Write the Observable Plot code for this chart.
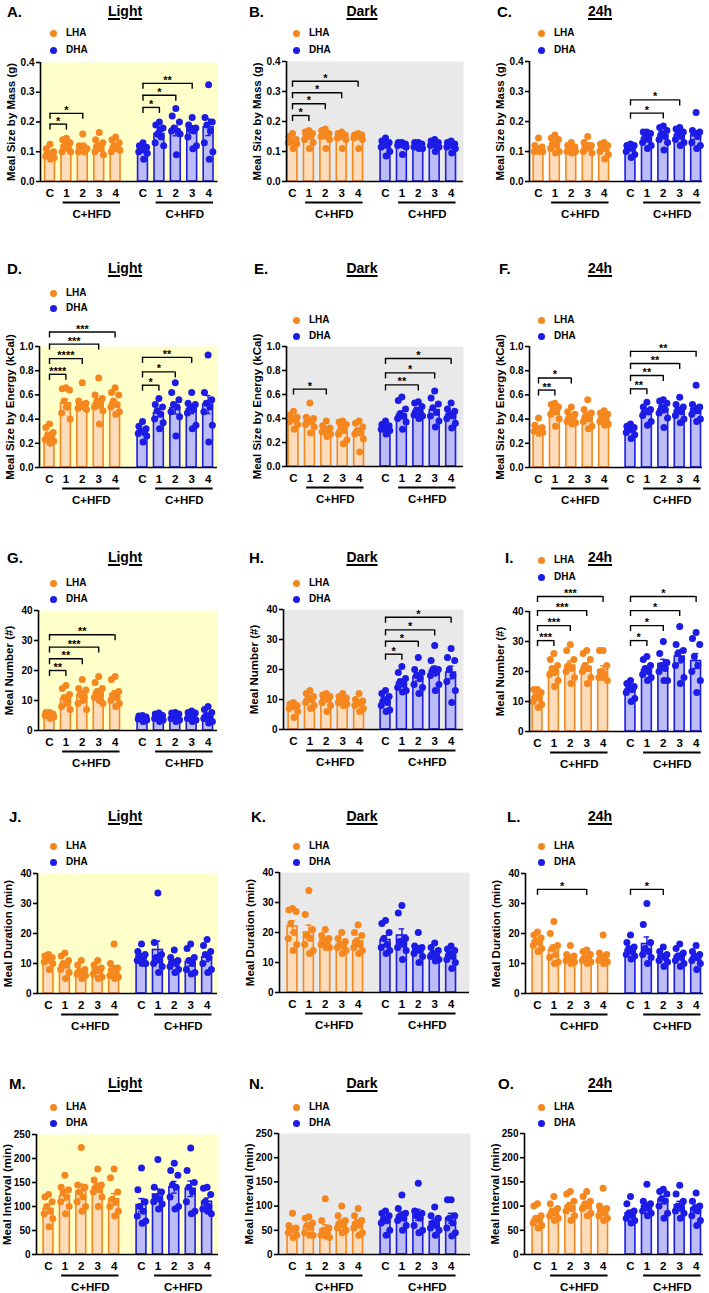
<!DOCTYPE html>
<html>
<head>
<meta charset="utf-8">
<script src="https://cdn.jsdelivr.net/npm/d3@7"></script>
<script src="https://cdn.jsdelivr.net/npm/@observablehq/plot@0.6"></script>
<style>
  body { margin: 0; background: #fff; }
  #fig { position: relative; width: 709px; height: 1293px; overflow: hidden;
         font-family: "Liberation Sans", Arial, Helvetica, sans-serif; color: #000; }
  .panel { position: absolute; }
  .letter { position: absolute; font-weight: bold; font-size: 15px; line-height: 1; transform: translateY(-50%); }
  .title { position: absolute; font-weight: bold; font-size: 14px; line-height: 1; transform: translate(-50%, -50%);
           text-decoration: underline; text-decoration-thickness: 1.5px; text-underline-offset: 2px; }
  .leg { position: absolute; font-weight: bold; font-size: 10px; line-height: 14px; display: flex; align-items: center; white-space: nowrap; }
  .leg i { display: inline-block; width: 7px; height: 7px; border-radius: 50%; margin-right: 9.5px; }
</style>
</head>
<body>
<div id="fig"></div>
<script>
// ---------- data ----------
const groupLabels = ["C", "1", "2", "3", "4"];
const regionNames = ["LHA", "DHA"];

// Meal size by mass (g)
const massLightBars = [0.095, 0.12, 0.11, 0.12, 0.115, 0.105, 0.16, 0.17, 0.175, 0.182];
const massLightDots = [
  [0.125, 0.11, 0.10, 0.095, 0.09, 0.085, 0.08, 0.075],
  [0.145, 0.14, 0.13, 0.12, 0.11, 0.10, 0.10, 0.135],
  [0.16, 0.12, 0.11, 0.105, 0.10, 0.10, 0.11, 0.12],
  [0.165, 0.14, 0.13, 0.12, 0.11, 0.10, 0.09, 0.115],
  [0.15, 0.14, 0.13, 0.12, 0.11, 0.10, 0.105, 0.115],
  [0.13, 0.12, 0.115, 0.11, 0.105, 0.10, 0.095, 0.075],
  [0.20, 0.19, 0.18, 0.16, 0.15, 0.13, 0.12, 0.175],
  [0.245, 0.22, 0.20, 0.18, 0.17, 0.17, 0.16, 0.09],
  [0.215, 0.19, 0.18, 0.175, 0.17, 0.15, 0.12, 0.11],
  [0.325, 0.215, 0.20, 0.19, 0.17, 0.13, 0.10, 0.075]
];
const massLightSig = [[0, 1, 0.193, "*"], [0, 2, 0.229, "*"], [5, 6, 0.249, "*"], [5, 7, 0.29, "*"], [5, 8, 0.33, "**"]];

const massDarkBars = [0.135, 0.155, 0.155, 0.15, 0.15, 0.12, 0.12, 0.12, 0.125, 0.12];
const massDarkDots = [
  [0.16, 0.15, 0.14, 0.135, 0.13, 0.13, 0.125, 0.11],
  [0.17, 0.165, 0.16, 0.155, 0.15, 0.14, 0.13, 0.11],
  [0.175, 0.17, 0.16, 0.155, 0.15, 0.15, 0.14, 0.11],
  [0.165, 0.16, 0.155, 0.15, 0.15, 0.145, 0.14, 0.11],
  [0.16, 0.155, 0.155, 0.15, 0.15, 0.145, 0.14, 0.11],
  [0.145, 0.135, 0.13, 0.125, 0.12, 0.115, 0.10, 0.085],
  [0.13, 0.13, 0.125, 0.125, 0.12, 0.12, 0.115, 0.09],
  [0.13, 0.13, 0.125, 0.12, 0.12, 0.115, 0.11, 0.11],
  [0.14, 0.135, 0.13, 0.125, 0.12, 0.12, 0.115, 0.10],
  [0.135, 0.13, 0.125, 0.12, 0.12, 0.115, 0.11, 0.095]
];
const massDarkSig = [[0, 1, 0.22, "*"], [0, 2, 0.259, "*"], [0, 3, 0.296, "*"], [0, 4, 0.334, "*"]];

const massDayBars = [0.11, 0.125, 0.11, 0.115, 0.11, 0.11, 0.145, 0.155, 0.155, 0.155];
const massDayDots = [
  [0.145, 0.12, 0.115, 0.11, 0.105, 0.10, 0.10, 0.10],
  [0.155, 0.145, 0.14, 0.13, 0.12, 0.11, 0.10, 0.095],
  [0.13, 0.12, 0.115, 0.11, 0.105, 0.10, 0.10, 0.095],
  [0.15, 0.13, 0.12, 0.115, 0.11, 0.10, 0.095, 0.12],
  [0.13, 0.125, 0.12, 0.115, 0.11, 0.10, 0.09, 0.075],
  [0.125, 0.12, 0.12, 0.115, 0.11, 0.10, 0.09, 0.08],
  [0.165, 0.165, 0.16, 0.15, 0.14, 0.13, 0.12, 0.11],
  [0.185, 0.18, 0.17, 0.16, 0.15, 0.14, 0.13, 0.105],
  [0.18, 0.175, 0.165, 0.16, 0.15, 0.14, 0.13, 0.12],
  [0.23, 0.17, 0.165, 0.16, 0.15, 0.13, 0.12, 0.11]
];
const massDaySig = [[5, 7, 0.228, "*"], [5, 8, 0.272, "*"]];

// Meal size by energy (kCal)
const energyLightBars = [0.25, 0.53, 0.52, 0.53, 0.53, 0.30, 0.45, 0.49, 0.48, 0.52];
const energyLightDots = [
  [0.36, 0.33, 0.29, 0.27, 0.25, 0.23, 0.22, 0.20],
  [0.66, 0.65, 0.64, 0.55, 0.50, 0.45, 0.40, 0.50],
  [0.70, 0.55, 0.53, 0.52, 0.50, 0.49, 0.48, 0.51],
  [0.74, 0.60, 0.57, 0.55, 0.52, 0.50, 0.47, 0.36],
  [0.66, 0.62, 0.60, 0.55, 0.52, 0.50, 0.46, 0.44],
  [0.38, 0.34, 0.32, 0.30, 0.29, 0.28, 0.26, 0.21],
  [0.57, 0.52, 0.50, 0.47, 0.44, 0.40, 0.37, 0.32],
  [0.70, 0.62, 0.56, 0.52, 0.50, 0.46, 0.42, 0.26],
  [0.62, 0.53, 0.52, 0.50, 0.48, 0.45, 0.35, 0.32],
  [0.93, 0.62, 0.56, 0.53, 0.50, 0.46, 0.35, 0.21]
];
const energyLightSig = [[0, 1, 0.77, "****"], [0, 2, 0.90, "****"], [0, 3, 1.02, "***"], [0, 4, 1.12, "***"],
                        [5, 6, 0.68, "*"], [5, 7, 0.79, "*"], [5, 8, 0.91, "**"]];

const energyDarkBars = [0.39, 0.38, 0.31, 0.30, 0.29, 0.32, 0.43, 0.46, 0.47, 0.43];
const energyDarkDots = [
  [0.46, 0.43, 0.41, 0.40, 0.39, 0.37, 0.35, 0.31],
  [0.53, 0.41, 0.40, 0.39, 0.37, 0.35, 0.33, 0.28],
  [0.38, 0.34, 0.32, 0.31, 0.30, 0.29, 0.27, 0.25],
  [0.38, 0.37, 0.35, 0.33, 0.30, 0.27, 0.22, 0.19],
  [0.38, 0.36, 0.33, 0.30, 0.28, 0.27, 0.23, 0.12],
  [0.38, 0.35, 0.34, 0.33, 0.32, 0.31, 0.30, 0.27],
  [0.58, 0.55, 0.48, 0.44, 0.42, 0.40, 0.37, 0.31],
  [0.54, 0.53, 0.50, 0.47, 0.45, 0.43, 0.42, 0.40],
  [0.63, 0.57, 0.52, 0.49, 0.45, 0.42, 0.38, 0.33],
  [0.53, 0.48, 0.46, 0.44, 0.42, 0.40, 0.36, 0.32]
];
const energyDarkSig = [[0, 2, 0.645, "*"], [5, 7, 0.68, "**"], [5, 8, 0.78, "*"], [5, 9, 0.90, "*"]];

const energyDayBars = [0.32, 0.46, 0.41, 0.42, 0.41, 0.31, 0.46, 0.48, 0.47, 0.48];
const energyDayDots = [
  [0.41, 0.35, 0.33, 0.32, 0.31, 0.30, 0.29, 0.28],
  [0.53, 0.52, 0.50, 0.48, 0.46, 0.44, 0.40, 0.34],
  [0.50, 0.46, 0.44, 0.42, 0.40, 0.38, 0.37, 0.36],
  [0.56, 0.48, 0.45, 0.43, 0.40, 0.38, 0.34, 0.32],
  [0.47, 0.45, 0.44, 0.42, 0.40, 0.38, 0.36, 0.35],
  [0.36, 0.34, 0.33, 0.32, 0.31, 0.29, 0.27, 0.24],
  [0.54, 0.50, 0.48, 0.47, 0.46, 0.43, 0.38, 0.35],
  [0.56, 0.55, 0.53, 0.50, 0.48, 0.45, 0.41, 0.33],
  [0.58, 0.52, 0.50, 0.48, 0.46, 0.43, 0.40, 0.37],
  [0.68, 0.52, 0.50, 0.49, 0.47, 0.44, 0.40, 0.38]
];
const energyDaySig = [[0, 1, 0.64, "**"], [0, 2, 0.74, "*"],
                      [5, 6, 0.65, "**"], [5, 7, 0.76, "**"], [5, 8, 0.86, "**"], [5, 9, 0.96, "**"]];

// Meal number (#)
const numberLightBars = [5, 10.5, 12, 12.5, 12, 4.2, 4.5, 4.8, 5, 5];
const numberLightDots = [
  [6, 6, 5.5, 5, 5, 5, 4.5, 4],
  [15, 14, 12, 11, 10, 8, 7, 9],
  [17, 14, 13.5, 12, 11, 9, 7, 10],
  [18, 16, 14, 13, 12, 11, 9, 10],
  [18, 17, 13, 12, 11, 10, 9, 8],
  [5, 4.8, 4.5, 4.2, 4, 3.8, 3.5, 3],
  [5.8, 5.5, 5, 4.5, 4.2, 4, 3.5, 3],
  [6, 5.8, 5.5, 5, 4.5, 4, 3.5, 3],
  [6.5, 6, 5.8, 5, 4.5, 4, 3.5, 3],
  [8, 7, 6, 5, 4.5, 4, 3, 2.5]
];
const numberLightSig = [[0, 1, 20, "**"], [0, 2, 23.9, "**"], [0, 3, 27.8, "***"], [0, 4, 31.9, "**"]];

const numberDarkBars = [7.5, 10, 10, 10, 8.5, 9.5, 15.5, 17.5, 19.5, 19];
const numberDarkDots = [
  [9, 8.5, 8, 8, 7.5, 7, 6, 4],
  [13, 12, 11, 10.5, 10, 9, 8, 7],
  [12, 11.5, 11, 10.5, 10, 9, 8, 6],
  [12, 11, 10.5, 10, 9.5, 9, 8.5, 8],
  [12, 10, 9.5, 9, 8.5, 8, 7, 6],
  [13, 12, 11, 10, 9, 8, 6.5, 6],
  [21, 19, 17, 16, 15, 14, 13, 12.5],
  [24, 20, 19, 18, 17, 15, 14, 12],
  [28, 23, 20, 20, 19, 18, 15, 13],
  [27, 24, 23, 20, 18, 16, 13, 9]
];
const numberDarkSig = [[5, 6, 25.1, "*"], [5, 7, 29.4, "*"], [5, 8, 33.2, "*"], [5, 9, 37.4, "*"]];

const numberDayBars = [11.5, 20, 22, 21.5, 20.5, 14, 20.5, 22.5, 25, 23.5];
const numberDayDots = [
  [14, 14, 13, 12, 11, 10, 9, 8],
  [26, 24, 22, 21, 20, 19, 17, 15],
  [29, 27, 24, 22, 21, 20, 18, 16],
  [27, 26, 24, 22, 21, 20, 18, 16],
  [27, 27, 22, 20, 19, 18, 17, 18],
  [17, 16, 15, 15, 14, 13, 11, 10],
  [25, 24, 22, 21, 20, 19, 18, 17],
  [30, 26, 23, 22, 21, 20, 17, 17],
  [35, 29, 27, 26, 24, 22, 18, 16],
  [33, 31, 29, 25, 22, 20, 17, 13]
];
const numberDaySig = [[0, 1, 30.3, "***"], [0, 2, 35.3, "***"], [0, 3, 40.3, "***"], [0, 4, 45, "***"],
                      [5, 6, 30.3, "*"], [5, 7, 35.3, "*"], [5, 8, 40.3, "*"], [5, 9, 45, "*"]];

// Meal duration (min)
const durationLightBars = [11, 9.5, 7.5, 8, 8, 12.5, 14.5, 10.5, 10.5, 12];
const durationLightDots = [
  [13, 12.5, 12, 11.5, 11, 10.5, 10, 8],
  [13.5, 12.5, 11, 10, 9.5, 8, 7, 5],
  [11, 9.5, 8, 7.5, 7, 6.5, 6, 5],
  [11, 9.5, 8.5, 8, 7.5, 6.5, 5.5, 5],
  [16.5, 10, 8.5, 8, 7, 6, 5.5, 5],
  [16.5, 14, 13, 12.5, 12, 11, 10, 10],
  [33.5, 17, 13, 12, 11, 10, 9, 7],
  [14.5, 12, 11, 10.5, 10, 9, 8, 7],
  [16.5, 15, 12, 11, 10, 8, 7, 6.5],
  [18, 16, 14, 13, 12, 10, 8, 7]
];
const durationLightSig = [];

const durationDarkBars = [22, 20, 17.5, 16, 17, 17.5, 19, 14.5, 13, 12.5];
const durationDarkDots = [
  [28, 27.5, 27, 23, 20, 18, 16, 14],
  [34, 26, 21, 19, 18, 16, 14, 13],
  [21, 19, 18, 17.5, 17, 16, 15, 15],
  [20, 18, 17, 16, 15.5, 15, 14, 13],
  [22.5, 20, 19, 17, 16, 15, 14, 13],
  [24, 23, 20, 18, 16, 15, 14, 13],
  [29, 26.5, 18, 17, 16, 15, 14, 11],
  [20, 15.5, 15, 14.5, 14, 13, 12, 10],
  [16.5, 15, 14, 13, 12.5, 12, 11, 10.5],
  [15.5, 14.5, 14, 13, 12, 11, 10, 8]
];
const durationDarkSig = [];

const durationDayBars = [17.5, 14.5, 12, 12, 12, 14.5, 16.5, 12.5, 12.5, 12];
const durationDayDots = [
  [20.5, 19.5, 18.5, 17.5, 17, 16, 15, 14],
  [24, 20, 16, 15, 13, 12, 10.5, 10],
  [16, 13, 12.5, 12, 11.5, 11, 10.5, 10],
  [14.5, 14, 13, 12, 11.5, 11, 10.5, 10],
  [19.5, 13.5, 13, 12, 11.5, 11, 10.5, 10],
  [19.5, 17, 15.5, 15, 14, 13, 12.5, 11.5],
  [30, 23, 17, 15, 14, 13, 12, 10],
  [15.5, 14, 13, 12.5, 12, 11, 10.5, 9],
  [16.5, 15, 13.5, 12.5, 12, 11, 10, 9],
  [16, 14, 13, 12.5, 12, 11, 10, 8]
];
const durationDaySig = [[0, 3, 34.7, "*"], [5, 7, 34.7, "*"]];

// Meal interval (min)
const intervalLightBars = [95, 122, 132, 140, 115, 103, 125, 140, 137, 110];
const intervalLightDots = [
  [125, 120, 110, 100, 90, 85, 75, 58],
  [165, 140, 135, 130, 120, 110, 100, 85],
  [223, 145, 140, 130, 120, 110, 100, 90],
  [178, 155, 145, 140, 135, 130, 120, 100],
  [178, 160, 130, 115, 110, 100, 90, 80],
  [180, 135, 110, 100, 90, 80, 70, 65],
  [198, 140, 130, 120, 115, 110, 105, 95],
  [190, 175, 165, 145, 140, 120, 100, 95],
  [222, 175, 150, 140, 130, 110, 90, 85],
  [140, 138, 125, 110, 100, 95, 85, 90]
];
const intervalLightSig = [];

const intervalDarkBars = [53, 58, 52, 65, 65, 70, 80, 82, 67, 75];
const intervalDarkDots = [
  [85, 60, 55, 52, 50, 45, 40, 35],
  [78, 75, 65, 60, 55, 45, 40, 40],
  [115, 70, 55, 50, 45, 40, 35, 38],
  [100, 80, 70, 65, 60, 55, 50, 45],
  [95, 80, 70, 65, 60, 55, 45, 40],
  [90, 85, 80, 75, 70, 65, 50, 40],
  [123, 95, 85, 80, 75, 70, 60, 50],
  [147, 90, 85, 80, 75, 60, 50, 45],
  [98, 80, 75, 65, 60, 55, 50, 40],
  [113, 113, 80, 75, 65, 55, 45, 38]
];
const intervalDarkSig = [];

const intervalDayBars = [73, 88, 100, 102, 92, 85, 100, 113, 102, 95];
const intervalDayDots = [
  [105, 100, 80, 75, 70, 65, 60, 55],
  [120, 105, 95, 90, 85, 80, 75, 70],
  [130, 125, 110, 100, 95, 90, 80, 70],
  [130, 120, 110, 105, 100, 95, 85, 80],
  [137, 100, 95, 90, 85, 80, 75, 70],
  [120, 105, 90, 85, 80, 75, 70, 65],
  [145, 110, 105, 100, 95, 90, 85, 80],
  [135, 130, 125, 115, 110, 100, 85, 75],
  [143, 125, 110, 100, 95, 90, 85, 75],
  [127, 110, 100, 95, 90, 80, 70, 60]
];
const intervalDaySig = [];

// ---------- panels ----------
const panels = [
  {key: "A", period: "Light", metric: "mass",     bars: massLightBars,     dots: massLightDots,     sig: massLightSig},
  {key: "B", period: "Dark",  metric: "mass",     bars: massDarkBars,      dots: massDarkDots,      sig: massDarkSig},
  {key: "C", period: "24h",   metric: "mass",     bars: massDayBars,       dots: massDayDots,       sig: massDaySig},
  {key: "D", period: "Light", metric: "energy",   bars: energyLightBars,   dots: energyLightDots,   sig: energyLightSig},
  {key: "E", period: "Dark",  metric: "energy",   bars: energyDarkBars,    dots: energyDarkDots,    sig: energyDarkSig},
  {key: "F", period: "24h",   metric: "energy",   bars: energyDayBars,     dots: energyDayDots,     sig: energyDaySig},
  {key: "G", period: "Light", metric: "number",   bars: numberLightBars,   dots: numberLightDots,   sig: numberLightSig},
  {key: "H", period: "Dark",  metric: "number",   bars: numberDarkBars,    dots: numberDarkDots,    sig: numberDarkSig},
  {key: "I", period: "24h",   metric: "number",   bars: numberDayBars,     dots: numberDayDots,     sig: numberDaySig},
  {key: "J", period: "Light", metric: "duration", bars: durationLightBars, dots: durationLightDots, sig: durationLightSig},
  {key: "K", period: "Dark",  metric: "duration", bars: durationDarkBars,  dots: durationDarkDots,  sig: durationDarkSig},
  {key: "L", period: "24h",   metric: "duration", bars: durationDayBars,   dots: durationDayDots,   sig: durationDaySig},
  {key: "M", period: "Light", metric: "interval", bars: intervalLightBars, dots: intervalLightDots, sig: intervalLightSig},
  {key: "N", period: "Dark",  metric: "interval", bars: intervalDarkBars,  dots: intervalDarkDots,  sig: intervalDarkSig},
  {key: "O", period: "24h",   metric: "interval", bars: intervalDayBars,   dots: intervalDayDots,   sig: intervalDaySig}
];

const metrics = {
  mass:     {label: "Meal Size by Mass (g)",      max: 0.4, ticks: [0, 0.1, 0.2, 0.3, 0.4], fmt: d3.format(".1f")},
  energy:   {label: "Meal Size by Energy (kCal)", max: 1.0, ticks: [0, 0.2, 0.4, 0.6, 0.8, 1.0], fmt: d3.format(".1f")},
  number:   {label: "Meal Number (#)",            max: 40,  ticks: [0, 10, 20, 30, 40], fmt: d3.format("d")},
  duration: {label: "Meal Duration (min)",        max: 40,  ticks: [0, 10, 20, 30, 40], fmt: d3.format("d")},
  interval: {label: "Meal Interval (min)",        max: 250, ticks: [0, 50, 100, 150, 200, 250], fmt: d3.format("d")}
};

// ---------- styling and layout ----------
const FONT = '"Liberation Sans", Arial, Helvetica, sans-serif';
const stroke = {LHA: "#f5871f", DHA: "#1c1ce6"};
const fill = {LHA: "#fddcbb", DHA: "#bcbcf6"};
const background = {Light: "#ffffc9", Dark: "#e9e9e9", "24h": null};

// plot frame in page pixels: axis x, right edge, top, bottom, first LHA bar and first DHA bar centres
const frames = {
  A: [39.5, 217, 62, 181, 49, 142],  B: [286, 463, 61, 181, 292, 385],  C: [529, 702, 61, 181, 538, 630],
  D: [39, 217, 346, 467, 49, 142],   E: [286, 463, 346, 466, 293, 385], F: [529, 702, 346, 467, 538, 630],
  G: [38, 217, 610, 730, 49, 142],   H: [283, 463, 609, 729, 293, 385], I: [529, 702, 611, 731, 537, 630],
  J: [37, 217, 873, 993, 48, 141],   K: [279, 469, 872, 992, 292, 385], L: [525, 703, 873, 993, 537, 630],
  M: [36, 218, 1134, 1254, 48, 141], N: [278, 470, 1133, 1254, 292, 385], O: [524, 703, 1133, 1254, 537, 630]
};
const rowTextY = [11, 268, 557, 816, 1083];
const titleX = [125, 362, 600];
const legendX = [53, 296, 541];
const letterX = {A: 7, B: 249, C: 497, D: 7, E: 254, F: 499, G: 7, H: 249, I: 505, J: 9, K: 251, L: 507, M: 9, N: 249, O: 498};
const legendY = {A: [33, 50], B: [33, 50], C: [33, 50], D: [293, 308], E: [320, 336], F: [320, 336],
                 G: [583, 599], H: [583, 599], I: [560, 577], J: [846, 862], K: [846, 862], L: [846, 862],
                 M: [1107, 1123], N: [1107, 1123], O: [1107, 1123]};

const STEP = 16.4;          // px between neighbouring bars
const HALF = 0.3;           // half bar width, in bar steps
const jitter = [0, -0.22, 0.22, -0.11, 0.11, -0.26, 0.26, 0.04];
const ML = 38, MR = 4, MT = 36, MB = 44;

const fig = document.getElementById("fig");

function drawPanel(p, idx) {
  const [left, right, top, bottom, c0, d0] = frames[p.key];
  const m = metrics[p.metric];
  const gap = (d0 - c0) / STEP;
  const xAt = i => (i < 5 ? i : gap + (i - 5));
  const xDomain = [(left - c0) / STEP, (right - c0) / STEP];
  const plotH = bottom - top;
  const legLen = 6 * m.max / plotH;

  const groups = p.bars.map((mean, i) => {
    const v = p.dots[i];
    return {region: regionNames[i < 5 ? 0 : 1], label: groupLabels[i % 5], x: xAt(i), mean,
            sem: d3.deviation(v) / Math.sqrt(v.length)};
  });
  const points = p.dots.flatMap((v, i) => v.map((y, j) => ({region: regionNames[i < 5 ? 0 : 1], x: xAt(i) + jitter[j % jitter.length], y})));
  const hfd = [0, 1].map(k => ({a: xAt(k * 5 + 1) - 0.2, b: xAt(k * 5 + 4) + 0.3, mid: xAt(k * 5) + 2.55}));
  const brackets = p.sig.map(([a, b, y, star]) => ({xa: xAt(a), xb: xAt(b), y, star, mid: (xAt(a) + xAt(b)) / 2}));
  const legs = brackets.flatMap(d => [{x: d.xa, y: d.y}, {x: d.xb, y: d.y}]);

  const marks = [];
  if (background[p.period]) marks.push(Plot.frame({fill: background[p.period], stroke: "none"}));
  for (const r of regionNames) {
    const g = groups.filter(d => d.region === r);
    marks.push(
      Plot.rect(g, {x1: d => d.x - HALF, x2: d => d.x + HALF, y1: () => 0, y2: "mean", fill: fill[r], stroke: stroke[r], strokeWidth: 1.6}),
      Plot.ruleX(g, {x: "x", y1: d => d.mean - d.sem, y2: d => d.mean + d.sem, stroke: stroke[r], strokeWidth: 1.4}),
      Plot.ruleY(g, {y: d => d.mean + d.sem, x1: d => d.x - 0.17, x2: d => d.x + 0.17, stroke: stroke[r], strokeWidth: 1.4}),
      Plot.ruleY(g, {y: d => d.mean - d.sem, x1: d => d.x - 0.17, x2: d => d.x + 0.17, stroke: stroke[r], strokeWidth: 1.4}),
      Plot.dot(points.filter(d => d.region === r), {x: "x", y: "y", r: 3.5, fill: stroke[r], stroke: "none"})
    );
  }
  marks.push(
    Plot.ruleX([xDomain[0]], {y1: () => 0, y2: () => m.max, strokeWidth: 1.6}),
    Plot.ruleY([0], {strokeWidth: 1.6}),
    Plot.axisY({ticks: m.ticks, tickFormat: m.fmt, tickSize: 4, tickPadding: 2, label: null,
                fontSize: 10, fontWeight: "bold", strokeWidth: 1.6}),
    Plot.text([m.label], {frameAnchor: "left", textAnchor: "middle", rotate: -90, dx: -29,
                          fontSize: 11.5, fontWeight: "bold", fill: "black"}),
    Plot.text(groups, {x: "x", y: () => 0, text: "label", dy: 12, fontSize: 11.5, fontWeight: "bold", fill: "black"}),
    Plot.ruleY(hfd, {y: () => 0, x1: "a", x2: "b", dy: 21, strokeWidth: 2}),
    Plot.text(hfd, {x: "mid", y: () => 0, text: () => "C+HFD", dy: 33, fontSize: 11.5, fontWeight: "bold", fill: "black"}),
    Plot.ruleY(brackets, {y: "y", x1: "xa", x2: "xb", strokeWidth: 1.4}),
    Plot.ruleX(legs, {x: "x", y1: "y", y2: d => d.y - legLen, strokeWidth: 1.4}),
    Plot.text(brackets, {x: "mid", y: "y", text: "star", dy: -3, fontSize: 11, fontWeight: "bold", fill: "black"})
  );

  const svg = Plot.plot({
    width: ML + (right - left) + MR,
    height: MT + plotH + MB,
    marginLeft: ML, marginRight: MR, marginTop: MT, marginBottom: MB,
    style: {background: "transparent", fontFamily: FONT, overflow: "visible", color: "black"},
    x: {domain: xDomain, axis: null},
    y: {domain: [0, m.max]},
    marks
  });
  const wrap = document.createElement("div");
  wrap.className = "panel";
  wrap.style.left = (left - ML) + "px";
  wrap.style.top = (top - MT) + "px";
  wrap.appendChild(svg);
  fig.appendChild(wrap);

  // letter, period title and region legend
  const row = Math.floor(idx / 3), col = idx % 3;
  const ty = rowTextY[row];
  const letter = document.createElement("div");
  letter.className = "letter";
  letter.style.left = letterX[p.key] + "px";
  letter.style.top = ty + "px";
  letter.textContent = p.key + ".";
  fig.appendChild(letter);

  const title = document.createElement("div");
  title.className = "title";
  title.style.left = titleX[col] + "px";
  title.style.top = ty + "px";
  title.textContent = p.period;
  fig.appendChild(title);

  regionNames.forEach((r, k) => {
    const lg = document.createElement("div");
    lg.className = "leg";
    lg.style.left = (legendX[col] - 3.5) + "px";
    lg.style.top = (legendY[p.key][k] - 7) + "px";
    lg.innerHTML = `<i style="background:${stroke[r]}"></i>${r}`;
    fig.appendChild(lg);
  });
}

panels.forEach(drawPanel);
</script>
</body>
</html>
